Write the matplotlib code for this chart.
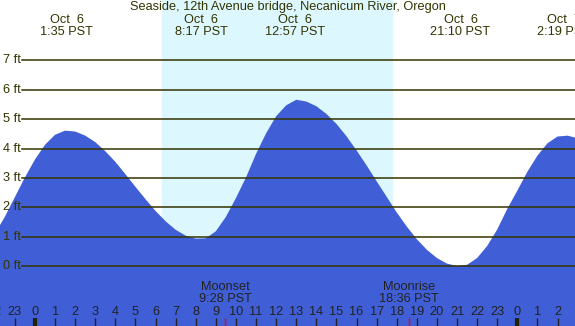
import matplotlib
matplotlib.use("Agg")
import matplotlib.pyplot as plt

# tide height (ft) every half hour, hours from midnight Oct 6 (PST)
hours = [-2.0, -1.5, -1.0, -0.5, 0.0, 0.5, 1.0, 1.5, 2.0, 2.5, 3.0, 3.5, 4.0, 4.5,
         5.0, 5.5, 6.0, 6.5, 7.0, 7.5, 8.0, 8.5, 9.0, 9.5, 10.0, 10.5, 11.0, 11.5,
         12.0, 12.5, 13.0, 13.5, 14.0, 14.5, 15.0, 15.5, 16.0, 16.5, 17.0, 17.5,
         18.0, 18.5, 19.0, 19.5, 20.0, 20.5, 21.0, 21.5, 22.0, 22.5, 23.0, 23.5,
         24.0, 24.5, 25.0, 25.5, 26.0, 26.5, 27.0]
height = [1.10, 1.68, 2.35, 3.02, 3.63, 4.13, 4.47, 4.61, 4.58, 4.44, 4.22, 3.91, 3.55, 3.13,
          2.70, 2.28, 1.88, 1.53, 1.24, 1.04, 0.94, 0.95, 1.19, 1.68, 2.32, 3.02, 3.82, 4.52,
          5.10, 5.47, 5.66, 5.60, 5.44, 5.18, 4.84, 4.42, 3.94, 3.43, 2.89, 2.36,
          1.83, 1.35, 0.92, 0.56, 0.28, 0.09, 0.01, 0.05, 0.28, 0.69, 1.25, 1.95,
          2.57, 3.21, 3.76, 4.18, 4.41, 4.44, 4.35]

# high / low events
event_hours = [1.58, 8.28, 12.95, 21.17, 26.32]
event_dates = ["Oct  6", "Oct  6", "Oct  6", "Oct  6", "Oct  7"]
event_times = ["1:35 PST", "8:17 PST", "12:57 PST", "21:10 PST", "2:19 PST"]

sunrise, sunset = 6.32, 17.76
moon_hours = [9.47, 18.60]
moon_names = ["Moonset", "Moonrise"]
moon_times = ["9:28 PST", "18:36 PST"]

tick_hours = list(range(-2, 27))
tick_labels = [str(h % 24) for h in tick_hours]
ft_levels = list(range(0, 8))

title = "Seaside, 12th Avenue bridge, Necanicum River, Oregon"

plt.rcParams["font.family"] = ["Liberation Sans", "DejaVu Sans"]
txt = "#333300"
fs = 9.2

fig = plt.figure(figsize=(5.75, 3.26), dpi=100)
ax = fig.add_axes([0, 0, 1, 1])
ax.set_facecolor("#b0c4de")
ax.set_xlim(-1.74, 26.87)
ax.set_ylim(-2.03, 9.05)
ax.axis("off")
ax.patch.set_visible(True)

ax.axvspan(sunrise, sunset, color="#ddf7fe", zorder=1)
ax.fill_between(hours, height, -5, color="#405fd6", lw=0, zorder=2)

for lv in ft_levels:
    ax.axhline(lv, xmin=0.038, xmax=1, color="#333300", lw=1.1, zorder=3)
    ax.text(0.005, lv, f"{lv} ft", transform=ax.get_yaxis_transform(),
            ha="left", va="center", fontsize=fs, color=txt, zorder=4)

xt = ax.get_xaxis_transform()
ax.text(0.5, 0.979, title, transform=ax.transAxes, ha="center", va="center",
        fontsize=fs, color=txt)
for h, d, t in zip(event_hours, event_dates, event_times):
    ax.text(h, 0.940, d, transform=xt, ha="center", va="center", fontsize=fs, color=txt)
    ax.text(h, 0.903, t, transform=xt, ha="center", va="center", fontsize=fs, color=txt)

for h, lab in zip(tick_hours, tick_labels):
    ax.text(h, 0.044, lab, transform=xt, ha="center", va="center", fontsize=fs, color="#222222")
    if h % 24 == 0:
        ax.vlines(h, 0, 0.025, transform=xt, color="#222200", lw=3, zorder=5)
    else:
        ax.vlines(h, 0, 0.025, transform=xt, color="#222222", lw=1, zorder=5)

for h, n, t in zip(moon_hours, moon_names, moon_times):
    ax.text(h, 0.120, n, transform=xt, ha="center", va="center", fontsize=fs, color="#222222")
    ax.text(h, 0.083, t, transform=xt, ha="center", va="center", fontsize=fs, color="#222222")
    ax.vlines(h, 0, 0.025, transform=xt, color="red", lw=1, zorder=5)

fig.savefig("out.png", dpi=100)
